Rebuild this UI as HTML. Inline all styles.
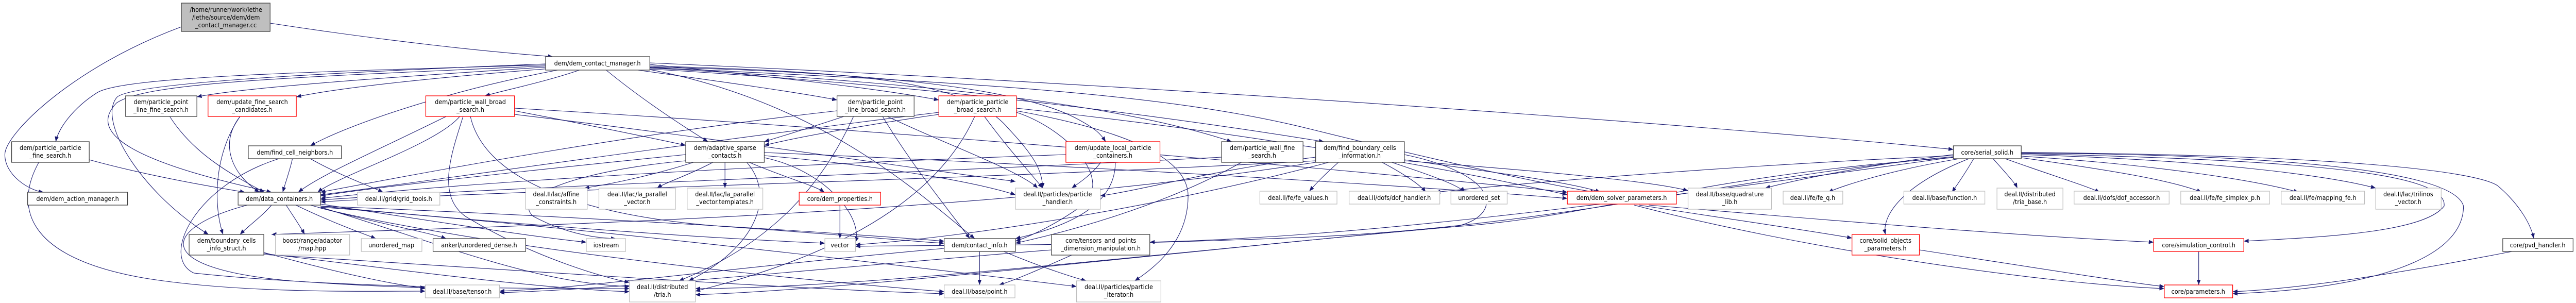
<!DOCTYPE html>
<html><head><meta charset="utf-8"><style>
html,body{margin:0;padding:0;background:#fff;overflow:hidden;}
svg{display:block;width:100vw;height:100vh;}
text{font-family:"DejaVu Sans","Liberation Sans",sans-serif;font-size:12px;fill:#000;text-anchor:middle;}
.e{fill:none;stroke:#191970;stroke-width:1.1;marker-end:url(#a);}
.b{fill:#fff;stroke:#404040;stroke-width:1.3;}
.g{fill:#fff;stroke:#bfbfbf;stroke-width:1.3;}
.r{fill:#fff;stroke:#ff0000;stroke-width:1.3;}
</style></head><body>
<svg viewBox="0 0 5312 588" preserveAspectRatio="none" xmlns="http://www.w3.org/2000/svg">
<defs><marker id="a" markerWidth="11" markerHeight="8" refX="10" refY="4" orient="auto" markerUnits="userSpaceOnUse"><path d="M0,0 L10,4 L0,8 z" fill="#191970"/></marker></defs>
<g>
<path class="e" d="M557,45 C800,80 1000,100 1140,110"/>
<path class="e" d="M374,52 C150,130 10,260 10,300 C10,340 60,370 90,373"/>
<path class="e" d="M1130,130 C800,150 500,170 406,188"/>
<path class="e" d="M1135,133 C900,150 700,170 611,188"/>
<path class="e" d="M1125,126 C600,140 250,150 200,180 C150,210 120,250 115,275"/>
<path class="e" d="M1150,136 C900,180 700,250 640,283"/>
<path class="e" d="M1125,128 C600,150 300,160 240,200 C200,240 200,300 560,373"/>
<path class="e" d="M1125,124 C700,140 260,160 240,190 C200,240 300,380 430,455"/>
<path class="e" d="M1195,136 C1120,160 1040,175 1000,186"/>
<path class="e" d="M1250,136 C1320,190 1400,240 1460,275"/>
<path class="e" d="M1315,136 C1500,160 1650,180 1726,194"/>
<path class="e" d="M1340,125 C1600,150 1800,170 1936,194"/>
<path class="e" d="M1340,128 C1800,140 2000,160 2080,250 C2130,300 2150,330 2150,365"/>
<path class="e" d="M1340,130 C1800,140 2100,170 2220,230 C2260,250 2270,260 2280,275"/>
<path class="e" d="M1340,132 C1900,160 2300,200 2540,275"/>
<path class="e" d="M1340,134 C2000,170 2500,240 2730,275"/>
<path class="e" d="M1340,131 C2000,160 2400,180 2700,250 C3000,320 3200,360 3290,373"/>
<path class="e" d="M1340,122 C2500,170 3600,250 4028,290"/>
<path class="e" d="M1340,135 C1700,200 1900,380 2010,463"/>
<path class="e" d="M350,226 C400,300 480,340 545,373"/>
<path class="e" d="M495,226 C450,280 480,340 535,373"/>
<path class="e" d="M495,226 C440,300 440,400 460,455"/>
<path class="e" d="M184,310 C300,340 420,360 505,373"/>
<path class="e" d="M80,315 C30,400 50,500 300,540 C500,570 750,565 877,565"/>
<path class="e" d="M603,308 C598,330 590,350 583,373"/>
<path class="e" d="M640,308 C700,340 760,360 790,373"/>
<path class="e" d="M575,308 C400,360 330,500 400,530 C700,560 1100,560 1298,560"/>
<path class="e" d="M560,398 C540,420 510,440 495,455"/>
<path class="e" d="M590,398 C605,420 620,440 628,455"/>
<path class="e" d="M610,398 C680,430 740,450 775,463"/>
<path class="e" d="M640,398 C760,430 880,450 920,463"/>
<path class="e" d="M661,396 C900,430 1100,460 1209,470"/>
<path class="e" d="M661,400 C1000,430 1400,460 1701,472"/>
<path class="e" d="M510,398 C340,440 300,520 600,545 C750,555 850,558 877,558"/>
<path class="e" d="M661,402 C900,470 1100,550 1298,556"/>
<path class="e" d="M661,400 C1200,420 1700,450 1947,468"/>
<path class="e" d="M661,404 C1000,480 1600,540 1947,566"/>
<path class="e" d="M661,402 C1200,440 1900,520 2220,556"/>
<path class="e" d="M544,490 C700,530 800,550 877,560"/>
<path class="e" d="M544,492 C800,520 1100,560 1298,566"/>
<path class="e" d="M544,494 C1000,520 1600,560 1947,570"/>
<path class="e" d="M1061,215 C1200,240 1330,265 1414,282"/>
<path class="e" d="M920,226 C760,300 660,340 615,373"/>
<path class="e" d="M1061,222 C1500,270 1900,330 2094,352"/>
<path class="e" d="M1061,210 C1800,250 2800,330 3232,373"/>
<path class="e" d="M955,226 C930,300 900,380 960,420 C1100,500 1250,540 1298,548"/>
<path class="e" d="M970,226 C1000,350 1200,420 1500,440 C1800,460 1900,470 1947,472"/>
<path class="e" d="M948,226 C900,280 700,340 655,373"/>
<path class="e" d="M1414,300 C1100,330 800,360 661,380"/>
<path class="e" d="M1430,315 C1330,345 1240,360 1205,365"/>
<path class="e" d="M1470,315 C1420,340 1370,355 1355,365"/>
<path class="e" d="M1495,315 L1495,365"/>
<path class="e" d="M1545,315 C1620,345 1680,360 1700,373"/>
<path class="e" d="M1540,315 C1600,380 1560,480 1420,545"/>
<path class="e" d="M1576,302 C1800,320 2000,350 2094,378"/>
<path class="e" d="M1576,306 C1700,330 1780,420 1764,470"/>
<path class="e" d="M1414,312 C1200,330 1050,380 1100,420 C1170,455 1230,462 1270,463"/>
<path class="e" d="M1576,296 C2200,320 2900,360 3232,385"/>
<path class="e" d="M1732,398 L1732,463"/>
<path class="e" d="M1740,226 C1680,245 1620,262 1576,275"/>
<path class="e" d="M1726,215 C1300,260 900,330 661,373"/>
<path class="e" d="M1820,226 C1880,320 1950,400 2000,463"/>
<path class="e" d="M1830,226 C1950,280 2100,330 2140,365"/>
<path class="e" d="M1760,226 C1700,350 1600,470 1400,545"/>
<path class="e" d="M1936,222 C1800,240 1650,265 1576,282"/>
<path class="e" d="M1936,218 C1400,280 900,350 661,378"/>
<path class="e" d="M2030,226 C2080,290 2120,330 2150,365"/>
<path class="e" d="M2096,215 C2300,250 2450,300 2450,380 C2450,470 2380,520 2340,545"/>
<path class="e" d="M2010,226 C1950,350 1800,480 1434,565"/>
<path class="e" d="M2096,210 C2600,260 3000,330 3232,378"/>
<path class="e" d="M2096,218 C2200,250 2300,350 2230,400 C2170,440 2120,460 2094,468"/>
<path class="e" d="M2270,315 C2250,340 2225,355 2210,365"/>
<path class="e" d="M2198,300 C1600,320 1000,350 661,385"/>
<path class="e" d="M2300,315 C2300,400 2200,440 2094,463"/>
<path class="e" d="M2519,305 C1800,340 1100,360 661,388"/>
<path class="e" d="M2560,315 C2400,400 2200,450 2094,472"/>
<path class="e" d="M2760,315 C2730,340 2710,360 2700,371"/>
<path class="e" d="M2850,315 C2900,340 2930,360 2940,373"/>
<path class="e" d="M2870,315 C2950,340 3010,360 3020,373"/>
<path class="e" d="M2896,310 C3050,330 3250,355 3300,373"/>
<path class="e" d="M2896,312 C3150,330 3400,350 3481,370"/>
<path class="e" d="M2713,312 C2000,350 1000,370 661,392"/>
<path class="e" d="M2713,305 C2500,330 2350,370 2269,380"/>
<path class="e" d="M2713,315 C2000,420 1000,440 560,455"/>
<path class="e" d="M2740,315 C2400,400 2000,460 1764,475"/>
<path class="e" d="M2896,300 C3100,340 3100,420 3000,440 C2500,480 1800,560 1434,572"/>
<path class="e" d="M2020,488 L2020,553"/>
<path class="e" d="M2070,488 C2150,520 2220,540 2240,545"/>
<path class="e" d="M1947,482 C1500,520 1200,560 1030,565"/>
<path class="e" d="M2210,495 C2150,520 2090,545 2060,553"/>
<path class="e" d="M2168,485 C1700,520 1300,560 1030,568"/>
<path class="e" d="M3370,398 C3700,480 4200,550 4463,560"/>
<path class="e" d="M3380,398 C3600,430 3750,450 3819,462"/>
<path class="e" d="M3400,398 C3800,430 4200,460 4441,470"/>
<path class="e" d="M4028,300 C3850,320 3700,350 3640,365"/>
<path class="e" d="M4040,308 C3900,330 3800,360 3770,373"/>
<path class="e" d="M4070,308 C4050,340 4035,360 4025,373"/>
<path class="e" d="M4110,308 C4140,340 4155,355 4160,365"/>
<path class="e" d="M4135,308 C4230,340 4300,360 4330,373"/>
<path class="e" d="M4168,306 C4350,330 4480,350 4540,373"/>
<path class="e" d="M4168,303 C4450,320 4650,350 4740,373"/>
<path class="e" d="M4168,300 C4550,310 4800,340 4899,365"/>
<path class="e" d="M4060,308 C3920,360 3880,420 3888,455"/>
<path class="e" d="M4168,298 C4700,310 5050,330 5040,400 C5000,450 4800,460 4627,468"/>
<path class="e" d="M4168,297 C4700,300 5060,330 5080,400 C5080,500 4900,560 4604,570"/>
<path class="e" d="M4168,296 C4800,300 5100,330 5150,360 C5200,400 5220,440 5225,463"/>
<path class="e" d="M4028,302 C3600,320 3200,350 2960,373"/>
<path class="e" d="M4028,306 C3500,340 3300,420 3000,440 C2500,480 1800,560 1434,560"/>
<path class="e" d="M4028,305 C3300,400 2800,460 2371,470"/>
<path class="e" d="M4028,304 C3600,340 3200,440 2700,460 C2200,480 1900,475 1764,478"/>
<path class="e" d="M3958,485 C4200,520 4400,550 4463,556"/>
<path class="e" d="M4534,488 L4534,553"/>
<path class="e" d="M5180,488 C4950,530 4750,560 4604,566"/>
</g>
<g>
<rect x="374" y="6" width="183" height="55" fill="#bfbfbf" stroke="#404040" stroke-width="1.3"/>
<text x="466" y="23">/home/runner/work/lethe</text><text x="466" y="38">/lethe/source/dem/dem</text><text x="466" y="53">_contact_manager.cc</text>
<rect class="b" x="1125" y="110" width="215" height="26"/><text x="1232" y="127">dem/dem_contact_manager.h</text>

<rect class="b" x="259" y="186" width="147" height="40"/><text x="332" y="202">dem/particle_point</text><text x="332" y="217">_line_fine_search.h</text>
<rect class="r" x="429" y="186" width="182" height="40"/><text x="520" y="202">dem/update_fine_search</text><text x="520" y="217">_candidates.h</text>
<rect class="r" x="878" y="186" width="183" height="40"/><text x="970" y="202">dem/particle_wall_broad</text><text x="970" y="217">_search.h</text>
<rect class="b" x="1726" y="186" width="159" height="40"/><text x="1805" y="202">dem/particle_point</text><text x="1805" y="217">_line_broad_search.h</text>
<rect class="r" x="1936" y="186" width="160" height="40"/><text x="2016" y="202">dem/particle_particle</text><text x="2016" y="217">_broad_search.h</text>

<rect class="b" x="24" y="275" width="160" height="40"/><text x="104" y="291">dem/particle_particle</text><text x="104" y="306">_fine_search.h</text>
<rect class="b" x="512" y="283" width="192" height="25"/><text x="608" y="300">dem/find_cell_neighbors.h</text>
<rect class="b" x="1414" y="275" width="162" height="40"/><text x="1495" y="291">dem/adaptive_sparse</text><text x="1495" y="306">_contacts.h</text>
<rect class="r" x="2198" y="275" width="194" height="40"/><text x="2295" y="291">dem/update_local_particle</text><text x="2295" y="306">_containers.h</text>
<rect class="b" x="2519" y="275" width="168" height="40"/><text x="2603" y="291">dem/particle_wall_fine</text><text x="2603" y="306">_search.h</text>
<rect class="b" x="2713" y="275" width="183" height="40"/><text x="2804" y="291">dem/find_boundary_cells</text><text x="2804" y="306">_information.h</text>
<rect class="b" x="4028" y="283" width="140" height="25"/><text x="4098" y="300">core/serial_solid.h</text>

<rect class="b" x="57" y="373" width="206" height="25"/><text x="160" y="390">dem/dem_action_manager.h</text>
<rect class="b" x="491" y="373" width="170" height="25"/><text x="576" y="390">dem/data_containers.h</text>
<rect class="g" x="737" y="373" width="170" height="25"/><text x="822" y="390">deal.II/grid/grid_tools.h</text>
<rect class="g" x="1084" y="365" width="127" height="41"/><text x="1147" y="381">deal.II/lac/affine</text><text x="1147" y="396">_constraints.h</text>
<rect class="g" x="1235" y="365" width="158" height="41"/><text x="1314" y="381">deal.II/lac/la_parallel</text><text x="1314" y="396">_vector.h</text>
<rect class="g" x="1417" y="365" width="156" height="41"/><text x="1495" y="381">deal.II/lac/la_parallel</text><text x="1495" y="396">_vector.templates.h</text>
<rect class="r" x="1648" y="373" width="168" height="25"/><text x="1732" y="390">core/dem_properties.h</text>
<rect class="g" x="2094" y="365" width="175" height="41"/><text x="2181" y="381">deal.II/particles/particle</text><text x="2181" y="396">_handler.h</text>
<rect class="g" x="2598" y="371" width="159" height="25"/><text x="2677" y="388">deal.II/fe/fe_values.h</text>
<rect class="g" x="2782" y="371" width="187" height="25"/><text x="2875" y="388">deal.II/dofs/dof_handler.h</text>
<rect class="g" x="2992" y="371" width="116" height="25"/><text x="3050" y="388">unordered_set</text>
<rect class="r" x="3232" y="371" width="225" height="25"/><text x="3344" y="388">dem/dem_solver_parameters.h</text>
<rect class="g" x="3481" y="365" width="172" height="41"/><text x="3567" y="381">deal.II/base/quadrature</text><text x="3567" y="396">_lib.h</text>
<rect class="g" x="3677" y="371" width="123" height="25"/><text x="3738" y="388">deal.II/fe/fe_q.h</text>
<rect class="g" x="3926" y="371" width="167" height="25"/><text x="4010" y="388">deal.II/base/function.h</text>
<rect class="g" x="4118" y="365" width="136" height="41"/><text x="4186" y="381">deal.II/distributed</text><text x="4186" y="396">/tria_base.h</text>
<rect class="g" x="4277" y="371" width="196" height="25"/><text x="4375" y="388">deal.II/dofs/dof_accessor.h</text>
<rect class="g" x="4497" y="371" width="183" height="25"/><text x="4588" y="388">deal.II/fe/fe_simplex_p.h</text>
<rect class="g" x="4704" y="371" width="172" height="25"/><text x="4790" y="388">deal.II/fe/mapping_fe.h</text>
<rect class="g" x="4899" y="365" width="135" height="41"/><text x="4966" y="381">deal.II/lac/trilinos</text><text x="4966" y="396">_vector.h</text>

<rect class="b" x="390" y="455" width="154" height="40"/><text x="467" y="471">dem/boundary_cells</text><text x="467" y="486">_info_struct.h</text>
<rect class="g" x="568" y="455" width="153" height="40"/><text x="644" y="471">boost/range/adaptor</text><text x="644" y="486">/map.hpp</text>
<rect class="g" x="745" y="463" width="125" height="25"/><text x="807" y="480">unordered_map</text>
<rect class="b" x="893" y="463" width="191" height="25"/><text x="988" y="480">ankerl/unordered_dense.h</text>
<rect class="g" x="1209" y="463" width="81" height="25"/><text x="1250" y="480">iostream</text>
<rect class="g" x="1701" y="463" width="63" height="25"/><text x="1732" y="480">vector</text>
<rect class="b" x="1947" y="463" width="147" height="25"/><text x="2020" y="480">dem/contact_info.h</text>
<rect class="b" x="2168" y="455" width="203" height="40"/><text x="2270" y="471">core/tensors_and_points</text><text x="2270" y="486">_dimension_manipulation.h</text>
<rect class="r" x="3819" y="455" width="139" height="40"/><text x="3888" y="471">core/solid_objects</text><text x="3888" y="486">_parameters.h</text>
<rect class="r" x="4441" y="463" width="186" height="25"/><text x="4534" y="480">core/simulation_control.h</text>
<rect class="b" x="5161" y="463" width="145" height="25"/><text x="5233" y="480">core/pvd_handler.h</text>

<rect class="g" x="877" y="553" width="153" height="25"/><text x="953" y="570">deal.II/base/tensor.h</text>
<rect class="g" x="1298" y="545" width="136" height="41"/><text x="1366" y="561">deal.II/distributed</text><text x="1366" y="576">/tria.h</text>
<rect class="g" x="1947" y="553" width="146" height="25"/><text x="2020" y="570">deal.II/base/point.h</text>
<rect class="g" x="2220" y="545" width="174" height="41"/><text x="2307" y="561">deal.II/particles/particle</text><text x="2307" y="576">_iterator.h</text>
<rect class="r" x="4463" y="553" width="141" height="25"/><text x="4533" y="570">core/parameters.h</text>
</g>
</svg>
</body></html>
